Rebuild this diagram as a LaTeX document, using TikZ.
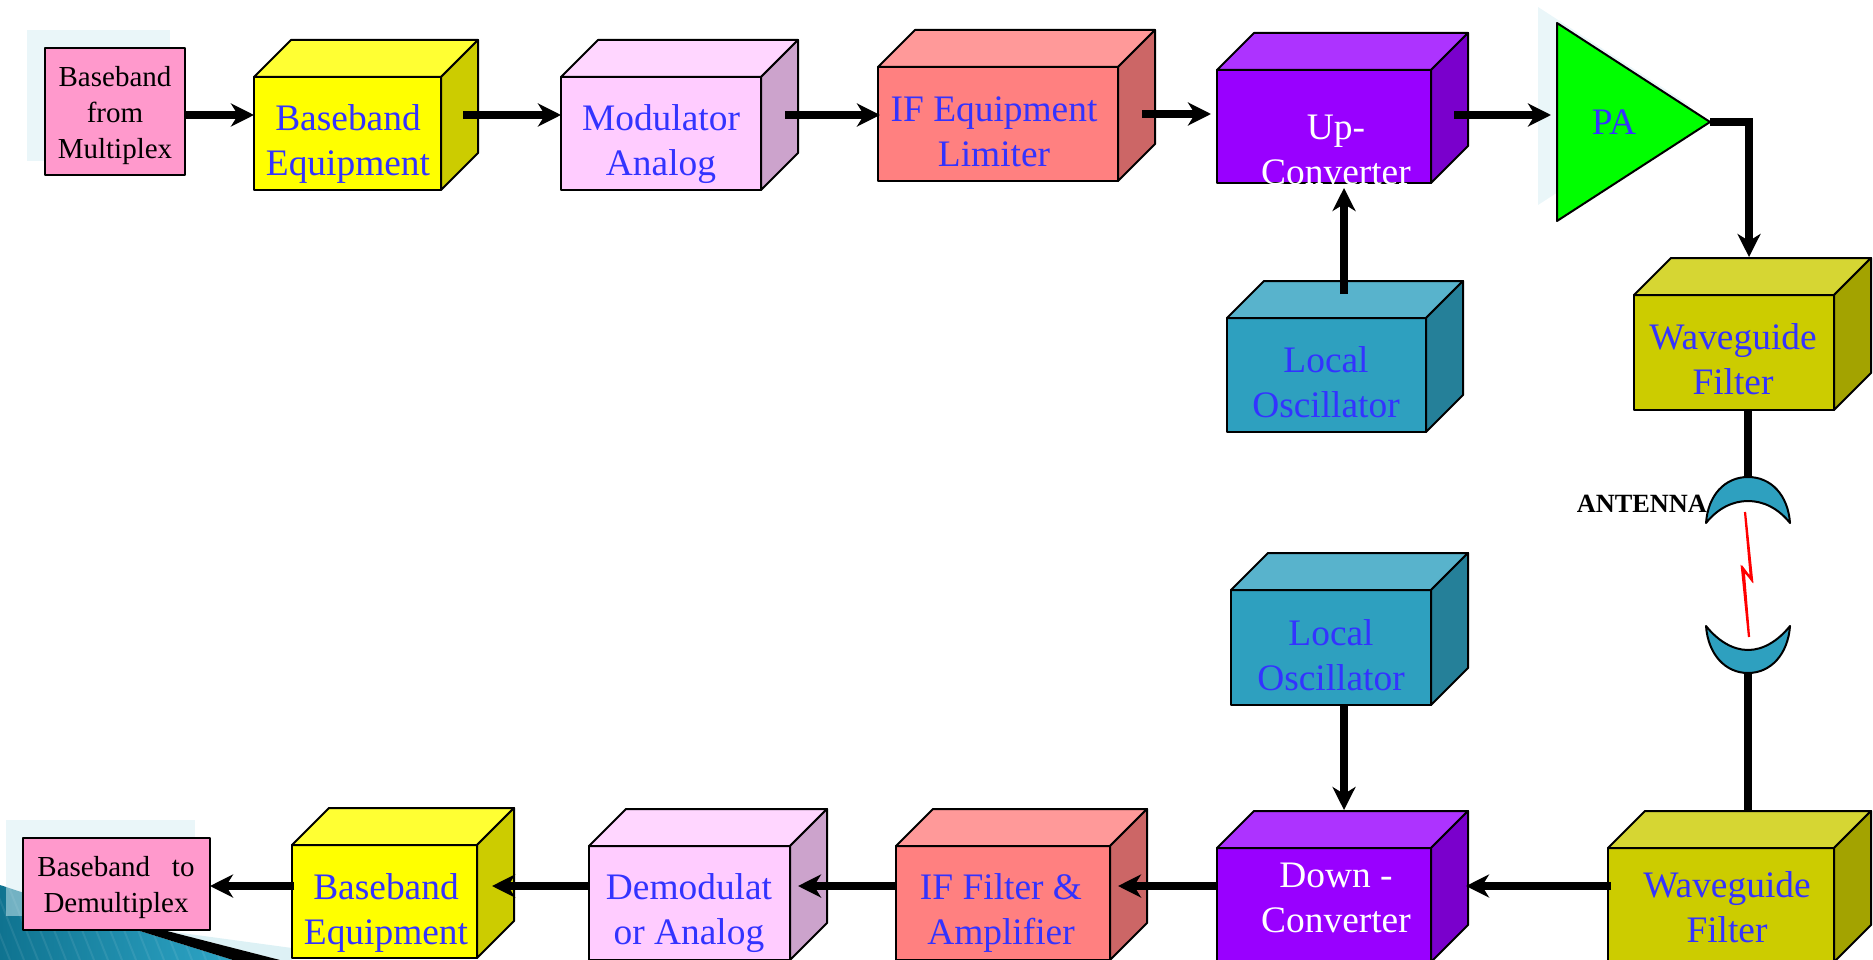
\documentclass[tikz,border=0pt]{standalone}
\usepackage{fontspec}
\setmainfont{Liberation Serif}
\usetikzlibrary{arrows.meta}

\definecolor{paleback}{HTML}{D5EEF3}
\definecolor{darkcorner}{HTML}{0F7390}
\definecolor{lightcorner}{HTML}{2EA5C6}
\definecolor{pinkbox}{HTML}{FF99CC}
\definecolor{bluetext}{HTML}{3333FF}
\definecolor{yellowbox}{HTML}{FFFF00}
\definecolor{yellowboxtop}{HTML}{FFFF33}
\definecolor{yellowboxside}{HTML}{CCCC00}
\definecolor{lilacbox}{HTML}{FFCCFF}
\definecolor{lilacboxtop}{HTML}{FFD6FF}
\definecolor{lilacboxside}{HTML}{CCA3CC}
\definecolor{redbox}{HTML}{FF8080}
\definecolor{redboxtop}{HTML}{FF9999}
\definecolor{redboxside}{HTML}{CC6666}
\definecolor{purplebox}{HTML}{9900FF}
\definecolor{purpleboxtop}{HTML}{AD33FF}
\definecolor{purpleboxside}{HTML}{7A00CC}
\definecolor{tealbox}{HTML}{2EA0BF}
\definecolor{tealboxtop}{HTML}{58B3CC}
\definecolor{tealboxside}{HTML}{258099}
\definecolor{olivebox}{HTML}{CCCC00}
\definecolor{oliveboxtop}{HTML}{D6D633}
\definecolor{oliveboxside}{HTML}{A3A300}

\tikzset{
  face/.style={draw, line width=2pt, line join=round},
  front/.style={face, anchor=north west, outer sep=0pt, inner sep=0pt},
  label/.style={align=center, text=bluetext, font=\fontsize{37.4}{45}\selectfont},
  whitelabel/.style={label, text=white},
  small/.style={align=center, font=\fontsize{29}{36}\selectfont},
  flow/.style={line width=8pt, ->},
}

% name, x, y, width, height, colour
\newcommand{\solidbox}[6]{
  \node(#1)[front, fill=#6, minimum width=#4pt, minimum height=#5pt] at (#2,#3) {};
  \draw[face, fill=#6top] (#1.north west) -- ++(37,-37) -- ++(#4,0) -- (#1.north east) -- cycle;
  \draw[face, fill=#6side] (#1.north east) -- ++(37,-37) -- ++(0,#5) -- (#1.south east) -- cycle;
}

\begin{document}
\begin{tikzpicture}[x=1pt,y=-1pt,>={Stealth[length=23pt,width=23pt,inset=7pt]}]
\useasboundingbox (0,0) rectangle (1873,960);
\clip (0,0) rectangle (1873,960);

% corner of the slide
\fill[paleback!80] (167,931) -- (292,948) -- (292,960) -- (280,960) -- cycle;
\begin{scope}
\clip (0,885) -- (140,931) -- (233,960) -- (0,960) -- cycle;
\shade[left color=darkcorner, right color=lightcorner] (0,885) rectangle (233,960);
\foreach \x in {-20,-6,...,220}
  \draw[white, opacity=.08, line width=2pt] (\x,885) -- ++(30,75);
\end{scope}
\fill[black] (140,931) -- (167,931) -- (280,960) -- (233,960) -- cycle;
\fill[paleback, opacity=.5] (27,30) rectangle (170,161);
\fill[paleback, opacity=.5] (6,820) rectangle (195,916);
\fill[paleback, opacity=.5] (1538,7) -- (1691,106) -- (1538,205) -- cycle;

% top row
\node(bbfrom)[front, fill=pinkbox, minimum width=140pt, minimum height=127pt] at (45,48) {};
\solidbox{bbtx}{254}{77}{187}{113}{yellowbox}
\solidbox{modtx}{561}{77}{200}{113}{lilacbox}
\solidbox{iftx}{878}{67}{240}{114}{redbox}
\solidbox{up}{1217}{70}{214}{113}{purplebox}
\solidbox{lotx}{1227}{318}{199}{114}{tealbox}
\draw[face, fill=green] (1557,23) -- (1710,122) -- (1557,221) -- cycle;
\coordinate (patip) at (1710,122);
\solidbox{wgtx}{1634}{295}{200}{115}{olivebox}

% bottom row
\solidbox{lorx}{1231}{590}{200}{115}{tealbox}
\solidbox{wgrx}{1608}{848}{226}{114}{olivebox}
\solidbox{down}{1217}{848}{214}{114}{purplebox}
\solidbox{ifrx}{896}{846}{214}{114}{redbox}
\solidbox{demod}{589}{846}{201}{114}{lilacbox}
\solidbox{bbrx}{292}{845}{185}{113}{yellowbox}
\node(bbto)[front, fill=pinkbox, minimum width=187pt, minimum height=92pt] at (23,838) {};

% antenna
\coordinate (anttx) at (1747.5,478);
\coordinate (antrx) at (1747.5,672);
\draw[line width=8pt] (wgtx.south -| anttx) -- (anttx);
\draw[line width=8pt] (antrx) -- (1747.5,811);
\draw[face, fill=tealbox] (1706,523) .. controls (1708,495) and (1725,477) .. (1748,477) .. controls (1771,477) and (1788,495) .. (1790,523) .. controls (1778,508) and (1763,501) .. (1748,501) .. controls (1733,501) and (1718,508) .. (1706,523) -- cycle;
\draw[face, fill=tealbox] (1706,626) .. controls (1708,654) and (1725,673) .. (1748,673) .. controls (1771,673) and (1788,654) .. (1790,626) .. controls (1778,641) and (1763,650) .. (1748,650) .. controls (1733,650) and (1718,641) .. (1706,626) -- cycle;
\draw[red, line width=2.2pt, fill=yellow] (1745,512) -- (1752,580) -- (1742,568) -- (1749,637) -- (1743.5,569) -- (1751,579) -- cycle;
\node(ant)[anchor=east, inner sep=0pt, font=\fontsize{26.3}{30}\selectfont\bfseries] at (1707,504) {ANTENNA};

% connectors
\draw[flow] (bbfrom.east |- 0,115) -- (bbtx.west |- 0,115);
\draw[flow] (463,115) -- (modtx.west |- 0,115);
\draw[flow] (785,115) -- (880,115);
\draw[flow] (1142,114) -- (1211,114);
\draw[flow] (1454,115) -- (1551,115);
\draw[line width=8pt, ->] (patip) -| (1749,257);
\draw[flow] (1344,294) -- (1344,188);
\draw[flow] (lorx.south -| 1344,0) -- (1344,810);
\draw[flow] (wgrx.west |- 0,886) ++(3,0) -- (1466,886);
\draw[flow] (down.west |- 0,886) -- (1118,886);
\draw[flow] (ifrx.west |- 0,886) -- (798,886);
\draw[flow] (demod.west |- 0,886) -- (492,886);
\draw[flow] (bbrx.west |- 0,886) ++(2,0) -- (bbto.east |- 0,886);

% texts
\node(bbfromtext)[small] at (115,115.5) {Baseband\\from\\Multiplex};
\node(bbtotext)[small] at (116,888) {Baseband\hspace{.75em}to\\Demultiplex};
\node(bbtxtext)[label] at (348,144.5) {Baseband\\Equipment};
\node(modtxtext)[label] at (661,144.5) {Modulator\\Analog};
\node(iftxtext)[label] at (994,132) {IF Equipment\\Limiter};
\node(uptext)[whitelabel] at (1336,150) {Up-\\Converter};
\node(patext)[label] at (1614,122) {PA};
\node(lotxtext)[label] at (1326,382.5) {Local\\Oscillator};
\node(wgtxtext)[label] at (1733,359.5) {Waveguide\\Filter};
\node(lorxtext)[label] at (1331,655) {Local\\Oscillator};
\node(wgrxtext)[label] at (1727,907) {Waveguide\\Filter};
\node(downtext)[whitelabel] at (1336,898) {Down -\\Converter};
\node(ifrxtext)[label] at (1001,913) {IF Filter \&\\Amplifier};
\node(demodtext)[label] at (689,913) {Demodulat\\or Analog};
\node(bbrxtext)[label] at (386,913) {Baseband\\Equipment};
\end{tikzpicture}
\end{document}
